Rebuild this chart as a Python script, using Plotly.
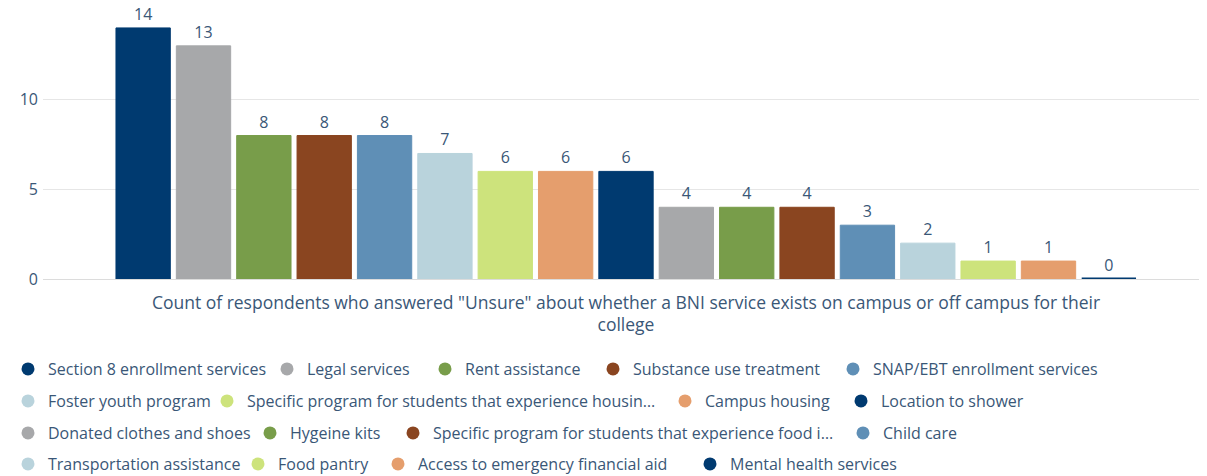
import plotly.graph_objects as go

category = ["Count of respondents who answered \"Unsure\" about whether a BNI service exists on campus or off campus for their<br>college"]

series_names = [
    "Section 8 enrollment services",
    "Legal services",
    "Rent assistance",
    "Substance use treatment",
    "SNAP/EBT enrollment services",
    "Foster youth program",
    "Specific program for students that experience housin…",
    "Campus housing",
    "Location to shower",
    "Donated clothes and shoes",
    "Hygeine kits",
    "Specific program for students that experience food i…",
    "Child care",
    "Transportation assistance",
    "Food pantry",
    "Access to emergency financial aid",
    "Mental health services",
]
values = [14, 13, 8, 8, 8, 7, 6, 6, 6, 4, 4, 4, 3, 2, 1, 1, 0]

palette = ["#003a70", "#a7a8aa", "#789d4a", "#8a4520", "#5f8fb6",
           "#b9d3dc", "#cde37c", "#e59e6d"]
colors = [palette[i % len(palette)] for i in range(len(series_names))]

# legend layout (pixel position of each entry's text start and row centre)
legend_text_x = [35, 307, 465, 633, 873,
                 35, 247, 705, 881,
                 35, 290, 433, 883,
                 35, 278, 418, 730]
legend_row_y = [369] * 5 + [401] * 4 + [433] * 4 + [464] * 4

W, H = 1207, 476
ML, MR, MT, MB = 35, 6, 2, 205
PW = W - ML - MR
TEXT = "#3a5777"
FONT = "'Open Sans', sans-serif"
FS = 16
TEXT_OFFSET = 48  # distance from legend box left to its text
VOFF = -8         # vertical correction of legend entries

fig = go.Figure()
for name, v, c in zip(series_names, values, colors):
    fig.add_trace(go.Bar(
        x=category, y=[v], name=name, marker_color=c,
        marker_line=dict(color=c, width=3 if v == 0 else 1),
        text=[str(v)], textposition="outside", cliponaxis=False,
        textfont=dict(color=TEXT, size=FS, family=FONT),
        showlegend=False, hoverinfo="y+name",
    ))

legend_layout = {}
for i, (name, c) in enumerate(zip(series_names, colors)):
    key = "legend" if i == 0 else f"legend{i + 1}"
    fig.add_trace(go.Scatter(
        x=[None], y=[None], mode="markers", name=name,
        marker=dict(color=c, size=13, symbol="circle"),
        showlegend=True, legend=key,
    ))
    legend_layout[key] = dict(
        orientation="h",
        xref="paper", yref="container",
        x=(legend_text_x[i] - TEXT_OFFSET - ML) / PW, xanchor="left",
        y=1 - (legend_row_y[i] + VOFF) / H, yanchor="middle",
        font=dict(size=FS, color=TEXT, family=FONT),
        bgcolor="rgba(0,0,0,0)", borderwidth=0,
    )

fig.update_layout(
    width=W, height=H,
    margin=dict(l=ML, r=MR, t=MT, b=MB),
    paper_bgcolor="white", plot_bgcolor="white",
    barmode="group", bargap=0.12, bargroupgap=0.1,
    font=dict(family=FONT, color=TEXT, size=FS),
    showlegend=True,
    xaxis=dict(showgrid=False, showline=False, ticks="", zeroline=False,
               automargin=False,
               tickfont=dict(size=17.5, color=TEXT), ticklabelstandoff=11),
    yaxis=dict(range=[0, 15], tickvals=[0, 5, 10], showgrid=True,
               automargin=False,
               gridcolor="#e6e6e6", zeroline=True, zerolinecolor="#dcdcdc",
               zerolinewidth=1, tickfont=dict(size=FS, color=TEXT),
               ticks="", ticklabelstandoff=4),
    **legend_layout,
)

fig.write_html("out.html")
